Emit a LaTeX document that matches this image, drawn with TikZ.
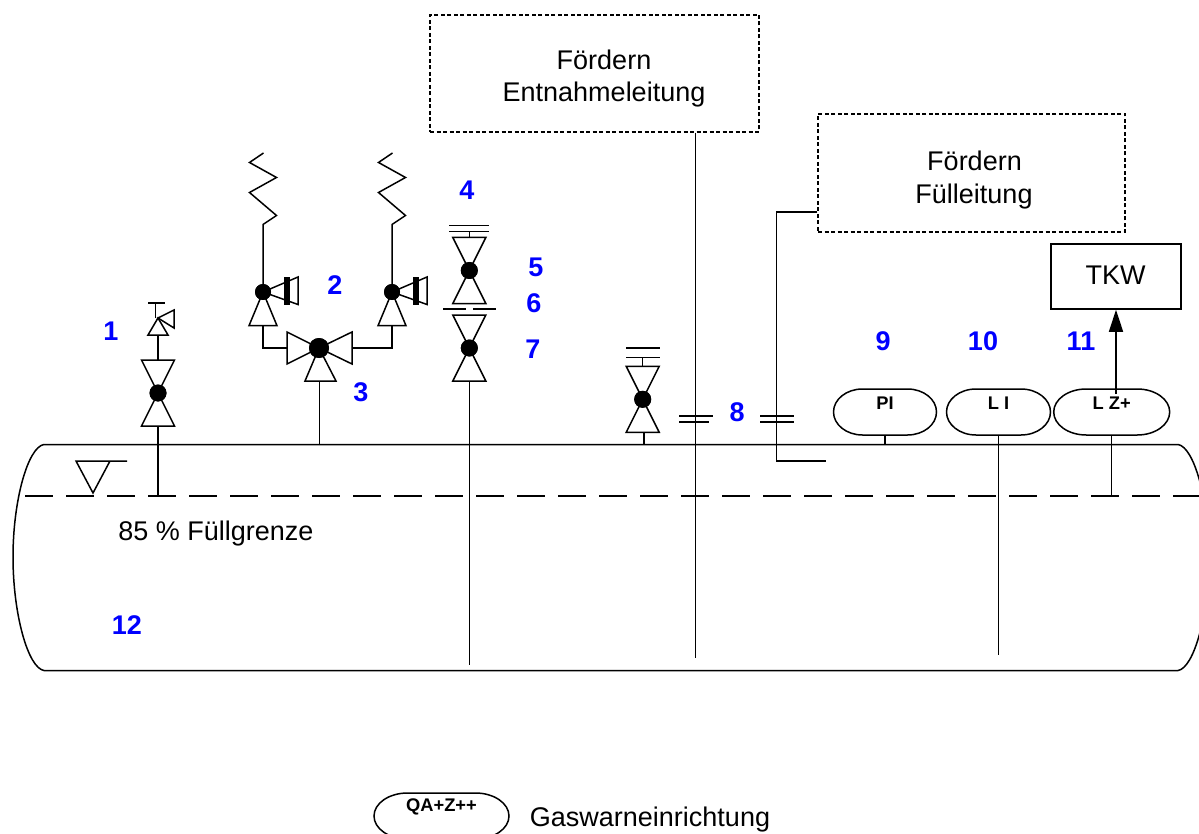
\documentclass[tikz,border=0pt]{standalone}
\usepackage{fontspec}
\setmainfont{Liberation Sans}
\usetikzlibrary{calc,arrows.meta}

\newcommand{\labelfont}{\fontsize{27}{32}\selectfont}
\newcommand{\gaugefont}{\fontsize{18.3}{22}\selectfont\bfseries}

% gauge: name, x, y, half of the flat part, end radius, text
\newcommand{\gauge}[6]{
	\coordinate (#1) at (#2,#3);
	\draw ($(#1)+(-#4,-23)$) arc [x radius=#5, y radius=23, start angle=-90, end angle=-270]
		-- ($(#1)+(#4,23)$) arc [x radius=#5, y radius=23, start angle=90, end angle=-90] -- cycle;
	\coordinate (#1_b) at ($(#1)+(0,23)$);
	\node [gaugelabel] (#1_t) at ($(#1)+(0,-9)$) {#6};
}

\begin{document}
\begin{tikzpicture}[x=1pt,y=-1pt,line width=1.5pt,
	numlabel/.style={text=blue,font=\labelfont\bfseries,inner sep=0pt},
	textlabel/.style={font=\labelfont,inner sep=0pt,anchor=base},
	gaugelabel/.style={font=\gaugefont,inner sep=0pt},
	dashbox/.style={draw,line width=1.2pt,dash pattern=on 4pt off 2.5pt,inner sep=0pt},
	ball/.style={circle,fill=black,inner sep=0pt,minimum size=17pt}]
	
	\clip (0,0) rectangle (1199,834);
	
	%---------------------------------------------
	
	% tank
	\draw (44,444.5) -- (1178,444.5) .. controls (1194,447) and (1209,500) .. (1209,557)
		.. controls (1209,614) and (1194,668) .. (1178,670.5) -- (44,670.5)
		.. controls (28,668) and (13,614) .. (13,557) .. controls (13,500) and (28,447) .. (44,444.5);
	\draw [dash pattern=on 28pt off 13pt] (25,496) -- (1199,496);
	\draw (127,461) -- (76,461) -- (93,493) -- (110,461);
	
	%---------------------------------------------
	
	% boxes
	\node [dashbox,minimum width=329pt,minimum height=117pt] (entnahme) at (594.5,73.5) {};
	\node [dashbox,minimum width=307pt,minimum height=118pt] (fuell) at (971.5,173) {};
	\node [draw,minimum width=130pt,minimum height=65pt,inner sep=0pt] (tkw) at (1116,276.5) {};
	
	\node [textlabel] (entnahme1) at (604,69.5) {Fördern};
	\node [textlabel] (entnahme2) at (604,101.3) {Entnahmeleitung};
	\node [textlabel] (fuell1) at (974.5,170.5) {Fördern};
	\node [textlabel] (fuell2) at (974,204) {Fülleitung};
	\node [textlabel] (tkwtext) at (1115.5,285) {TKW};
	
	%---------------------------------------------
	
	% valves
	\foreach \n/\x/\y in {a/158/393,b/469.3/270.5,c/469.3/348,d/642.7/399.3} {
		\node [ball] (v\n) at (\x,\y) {};
		\coordinate (v\n_t) at ($(v\n)+(0,-33)$);
		\coordinate (v\n_b) at ($(v\n)+(0,33)$);
		\draw (v\n.center) -- ($(v\n_t)+(-16.5,0)$) -- ($(v\n_t)+(16.5,0)$) -- cycle;
		\draw (v\n.center) -- ($(v\n_b)+(-16.5,0)$) -- ($(v\n_b)+(16.5,0)$) -- cycle;
		\node [ball] at (v\n) {};
	}
	
	\foreach \n/\x in {e/263,f/392} {
		\node [ball,minimum size=16pt] (v\n) at (\x,292) {};
		\coordinate (v\n_b) at ($(v\n)+(0,33.7)$);
		\draw (v\n.center) -- ($(v\n_b)+(-14,0)$) -- ($(v\n_b)+(14,0)$) -- cycle;
		\draw (v\n.center) -- ($(v\n)+(35,-15)$) -- ($(v\n)+(35,12.5)$) -- cycle;
		\fill ($(v\n)+(20.5,-15)$) rectangle ($(v\n)+(27,13)$);
		\coordinate (v\n_z) at ($(v\n)+(0,-67.5)$);
		\draw (v\n.center) -- (v\n_z) -- ++(13.5,-9) -- ++(-27,-23) -- ++(27,-15) -- ++(-27,-15) -- ++(14,-9.5);
		\node [ball,minimum size=16pt] at (v\n) {};
	}
	
	% three way valve
	\node [circle,fill=black,inner sep=0pt,minimum width=20pt,minimum height=18pt] (vm) at (319,348) {};
	\coordinate (vm_l) at (287,348);
	\coordinate (vm_r) at (352,348);
	\coordinate (vm_b) at (319.5,381);
	\draw (vm.center) -- (287,332) -- (287,364) -- cycle;
	\draw (vm.center) -- (352,332) -- (352,364) -- cycle;
	\draw (vm.center) -- (305,381) -- (336,381) -- cycle;
	\node [circle,fill=black,inner sep=0pt,minimum width=20pt,minimum height=18pt] at (vm) {};
	
	\draw (ve_b) -- (263,348) -- (vm_l);
	\draw (vf_b) -- (392,348) -- (vm_r);
	\draw (vm_b) -- (319.5,444.5);
	
	% small valve
	\coordinate (vs) at (158,318);
	\draw (vs) -- (148,335) -- (168,335) -- cycle;
	\draw (vs) -- (174,310) -- (174,328) -- cycle;
	\draw (155.7,318) -- (155.7,303);
	\draw (148,303) -- (165,303);
	
	%---------------------------------------------
	
	% stems
	\draw (va_b) -- (158,496);
	\draw (va_t) -- (158,335);
	\draw (vc_b) -- (469.3,665);
	\draw (644,432) -- (644,444.5);
	
	% caps
	\draw (449.3,225.5) -- (489,225.5);
	\draw (449.3,231.7) -- (489,231.7);
	\draw (469.3,231.7) -- (vb_t);
	\draw (443,309) -- (466,309);
	\draw (473,309) -- (496,309);
	\draw (626,348) -- (660,348);
	\draw (626,357.3) -- (660,357.3);
	\draw (642.7,357.3) -- (vd_t);
	
	%---------------------------------------------
	
	% pipes
	\coordinate (fuell_w) at ($(fuell.west)+(0,39)$);
	\draw ($(entnahme.south)+(101,0)$) -- (695.5,658);
	\draw (fuell_w) -- (776.3,212) -- (776.3,461) -- (826,461);
	\draw (679,416) -- (713,416);
	\draw (679,422) -- (709,422);
	\draw (760,416) -- (794,416);
	\draw (760,422) -- (794,422);
	
	%---------------------------------------------
	
	% gauges
	\gauge{pi}{885}{412}{22.5}{29}{PI}
	\gauge{li}{998.5}{412}{22.5}{29.5}{L I}
	\gauge{lz}{1111.7}{412}{25.5}{32.5}{L Z+}
	\gauge{qa}{441.5}{816}{34}{33.5}{QA+Z++}
	
	\draw (pi_b) -- (885,444.5);
	\draw (li_b) -- (998.5,655);
	\draw (lz_b) -- (1111.7,496);
	
	\coordinate (lz_a) at (1116,394);
	\draw [-{Triangle[length=22pt,width=14pt]}] (lz_a) -- (tkw.south -| lz_a);
	
	%---------------------------------------------
	
	\node [textlabel] (fuellgrenze) at (216,540) {85 \% Füllgrenze};
	\node [textlabel] (gaswarn) at (650,826.5) {Gaswarneinrichtung};
	
	\foreach \num/\x/\y in {1/111/331,2/335/285,3/361/392,4/467/190,5/536/267,6/534/303,7/533/349,
		8/737/412,9/883/341,10/983/341,11/1081/341,12/127/625} {
		\node [numlabel] (n\num) at (\x,\y) {\num};
	}
	
\end{tikzpicture}
\end{document}
